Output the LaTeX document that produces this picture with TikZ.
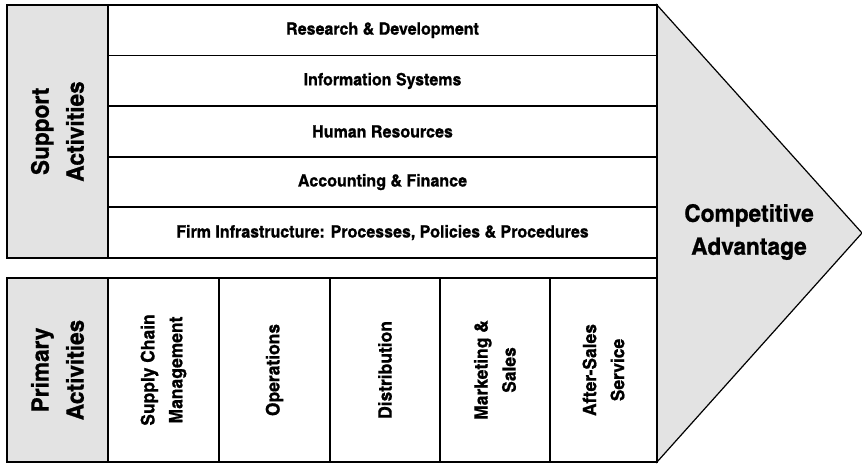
\documentclass[tikz,border=0pt]{standalone}
\usepackage{fontspec}
\setmainfont{texgyreheroscn-bold}[Extension=.otf, FakeStretch=1.15, FakeBold=0.8]
\definecolor{panelgrey}{HTML}{E3E3E3}

\tikzset{
    cell/.style={draw, line width=1.8pt, inner sep=0pt, align=center},
    rowtext/.style={font=\fontsize{17}{19}\selectfont},
    coltext/.style={font=\fontsize{18.5}{28}\selectfont},
    sidetext/.style={font=\fontsize{24}{35}\selectfont},
    bigtext/.style={font=\fontsize{24}{33}\selectfont, align=center}
}

\begin{document}
\begin{tikzpicture}[x=1pt, y=-1pt]
    \useasboundingbox (0,0) rectangle (862,465);

    % Competitive advantage arrow
    \draw[fill=panelgrey, line width=1.2pt] (657,5) -- (862,233) -- (657,462) -- cycle;
    \draw[line width=1.8pt] (657,5) -- (657,462);
    \node[bigtext] (adv) at (749,232) {Competitive\\Advantage};

    % Support activities
    \node[cell, fill=panelgrey, sidetext, rotate=90, minimum width=253, minimum height=101] (support) at (57.5,131.5) {Support\\Activities};
    \foreach \i/\label in {0/Research \& Development, 1/Information Systems, 2/Human Resources, 3/Accounting \& Finance, 4/{Firm Infrastructure: Processes, Policies \& Procedures}} {
        \node[cell, rowtext, minimum width=549, minimum height=50.6] (row\i) at (382.5,{30.3+50.6*\i}) {\label};
    }

    % Primary activities
    \node[cell, fill=panelgrey, sidetext, rotate=90, minimum width=184, minimum height=101] (primary) at (57.5,370) {Primary\\Activities};
    \foreach \x/\w/\label [count=\n] in {163.5/111/{Supply Chain\\Management}, 274.5/111/Operations, 385/110/Distribution, 495/110/{Marketing \&\\Sales}, 603.5/107/{After-Sales\\Service}} {
        \node[cell, coltext, rotate=90, minimum width=184, minimum height=\w] (col\n) at (\x,370) {\label};
    }
\end{tikzpicture}
\end{document}
